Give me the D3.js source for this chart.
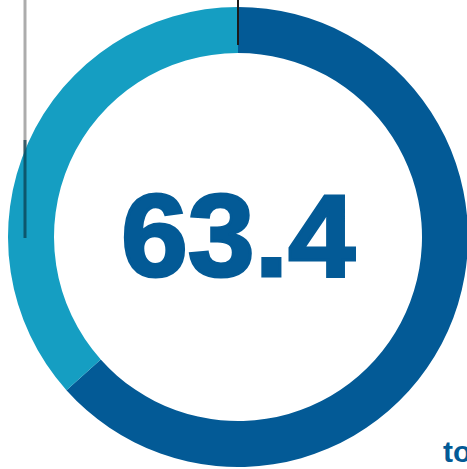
<!DOCTYPE html>
<html>
<head>
<meta charset="utf-8">
<script src="https://cdn.jsdelivr.net/npm/d3@7/dist/d3.min.js"></script>
<style>
  html, body { margin: 0; padding: 0; background: #ffffff; overflow: hidden; }
  svg { display: block; }
</style>
</head>
<body>
<svg id="chart" width="467" height="469"></svg>
<script>
// Donut: share of the whole, with the headline value in the middle
const labels = ["Share", "Remainder"];
const values = [63.4, 36.6];
const colors = ["#035a96", "#159ec2"];
const centerLabel = "63.4";
const cornerText = "to";

const svg = d3.select("#chart");
const cx = 238, cy = 237;
const outerR = 230, innerR = 184;

// faint pencil stroke running down the left side of the sheet
svg.append("line")
  .attr("x1", 25).attr("x2", 25)
  .attr("y1", 0).attr("y2", 238)
  .attr("stroke", "#8a8a8a")
  .attr("stroke-width", 3)
  .attr("opacity", 0.7);

const pie = d3.pie().sort(null).value(d => d)
  .startAngle(0).endAngle(2 * Math.PI);
const arc = d3.arc().innerRadius(innerR).outerRadius(outerR);

const g = svg.append("g").attr("transform", `translate(${cx},${cy})`);
g.selectAll("path.slice")
  .data(pie(values))
  .join("path")
  .attr("class", "slice")
  .attr("d", arc)
  .attr("fill", (d, i) => colors[i]);

// pencil stroke showing through the ring on the left
svg.append("line")
  .attr("x1", 25).attr("x2", 25)
  .attr("y1", 140).attr("y2", 238)
  .attr("stroke", "#0b3a4a")
  .attr("stroke-width", 3)
  .attr("opacity", 0.7);

// start marker at twelve o'clock
g.append("line")
  .attr("x1", 0).attr("x2", 0)
  .attr("y1", -cy).attr("y2", -(innerR + 8))
  .attr("stroke", "#1b1b1b")
  .attr("stroke-width", 2);

// headline value, heavy and tightly set
g.append("text")
  .attr("x", -117)
  .attr("y", 38.5)
  .attr("font-family", "'Liberation Sans', Arial, sans-serif")
  .attr("font-weight", "bold")
  .attr("font-size", 116)
  .attr("textLength", 234)
  .attr("lengthAdjust", "spacingAndGlyphs")
  .attr("fill", colors[0])
  .attr("stroke", colors[0])
  .attr("stroke-width", 3)
  .attr("stroke-linejoin", "miter")
  .text(centerLabel);

// start of a word running off the lower right edge
svg.append("text")
  .attr("x", 443)
  .attr("y", 462)
  .attr("font-family", "'Liberation Sans', Arial, sans-serif")
  .attr("font-weight", "bold")
  .attr("font-size", 30)
  .attr("fill", colors[0])
  .text(cornerText);
</script>
</body>
</html>
